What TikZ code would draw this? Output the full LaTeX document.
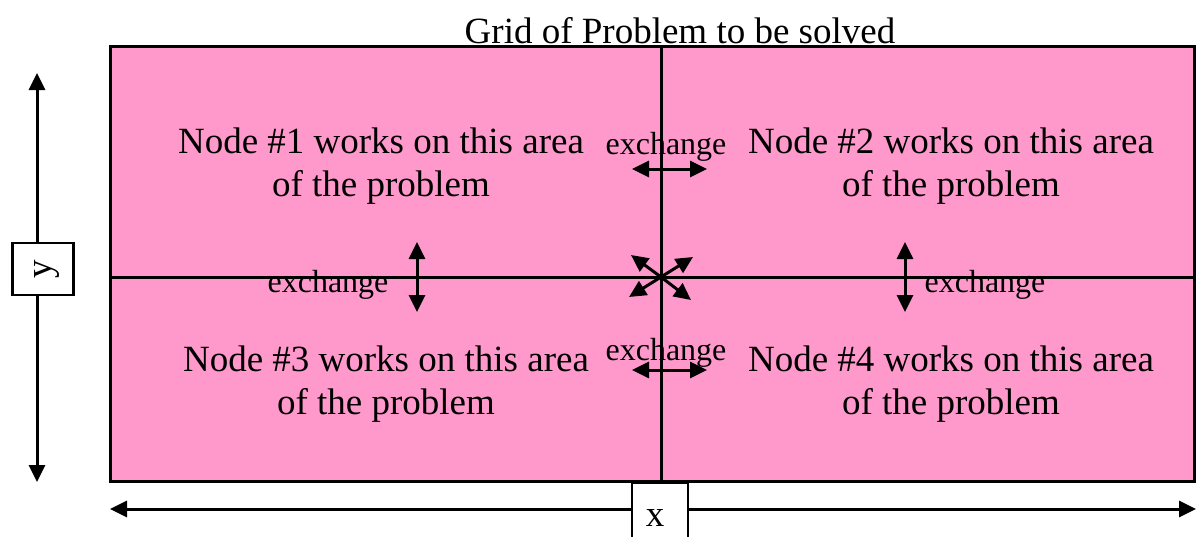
\documentclass[tikz,border=0pt]{standalone}
\usepackage{fontspec}
\setmainfont{Liberation Serif}
\usetikzlibrary{arrows.meta}
\definecolor{gridpink}{RGB}{255,153,204}
\begin{document}
\begin{tikzpicture}[x=1pt,y=-1pt,
  big/.style={font=\fontsize{37}{43}\selectfont, inner sep=0pt, align=center},
  small/.style={font=\fontsize{32}{38}\selectfont, inner sep=0pt},
  gline/.style={line width=3pt},
  arr/.style={line width=3pt, {Triangle[length=17pt,width=16pt]}-{Triangle[length=17pt,width=16pt]}},
  oarr/.style={line width=3pt, -{Triangle[length=17pt,width=16pt]}},
  dimbox/.style={draw, line width=2.8pt, fill=white}]
\useasboundingbox (0,0) rectangle (1196,536);
% grid
\draw[gline, fill=gridpink] (110,46) rectangle (1194,481);
\coordinate (ct) at (661,46);
\coordinate (cb) at (661,481);
\coordinate (ml) at (110,277);
\coordinate (mr) at (1194,277);
\draw[gline] (ct) -- (cb);
\draw[gline] (ml) -- (mr);
% title
\node[big] (title) at (680,31) {Grid of Problem to be solved};
% area texts
\node[big] (n1) at (381,166) {Node \#1 works on this area\\of the problem};
\node[big] (n2) at (951,166) {Node \#2 works on this area\\of the problem};
\node[big] (n3) at (386,384) {Node \#3 works on this area\\of the problem};
\node[big] (n4) at (951,384) {Node \#4 works on this area\\of the problem};
% exchange labels
\node[small] (e1) at (666,147) {exchange};
\node[small] (e2) at (666,353) {exchange};
\node[small] (e3) at (328,285) {exchange};
\node[small] (e4) at (985,285) {exchange};
% exchange arrows
\coordinate (a1l) at (632,169); \coordinate (a1r) at (707,169);
\coordinate (a2l) at (632,370); \coordinate (a2r) at (707,370);
\coordinate (a3t) at (417,242); \coordinate (a3b) at (417,312);
\coordinate (a4t) at (905,242); \coordinate (a4b) at (905,312);
\draw[arr] (a1l) -- (a1r);
\draw[arr] (a2l) -- (a2r);
\draw[arr] (a3t) -- (a3b);
\draw[arr] (a4t) -- (a4b);
% center diagonal arrows
\coordinate (c) at (661,277);
\coordinate (d1) at (631,255);
\coordinate (d2) at (693,257);
\coordinate (d3) at (629,297);
\coordinate (d4) at (691,300);
\draw[oarr] (c) -- (d1);
\draw[oarr] (c) -- (d2);
\draw[oarr] (c) -- (d3);
\draw[oarr] (c) -- (d4);
% y dimension
\node[dimbox, minimum width=61pt, minimum height=52pt, inner sep=0pt] (ybox) at (43,269) {};
\node[big, rotate=90] (ylab) at (47,269) {y};
\coordinate (ytop) at (37,73);
\coordinate (ybot) at (37,482);
\draw[oarr] (ytop |- ybox.north) -- (ytop);
\draw[oarr] (ybot |- ybox.south) -- (ybot);
% x dimension
\node[dimbox, minimum width=56pt, minimum height=60pt, inner sep=0pt, anchor=north] (xbox) at (660,481) {};
\node[big] (xlab) at (655,518) {x};
\coordinate (xl) at (110,509);
\coordinate (xr) at (1196,509);
\draw[oarr] (xbox.west |- xl) -- (xl);
\draw[oarr] (xbox.east |- xr) -- (xr);
\end{tikzpicture}
\end{document}
